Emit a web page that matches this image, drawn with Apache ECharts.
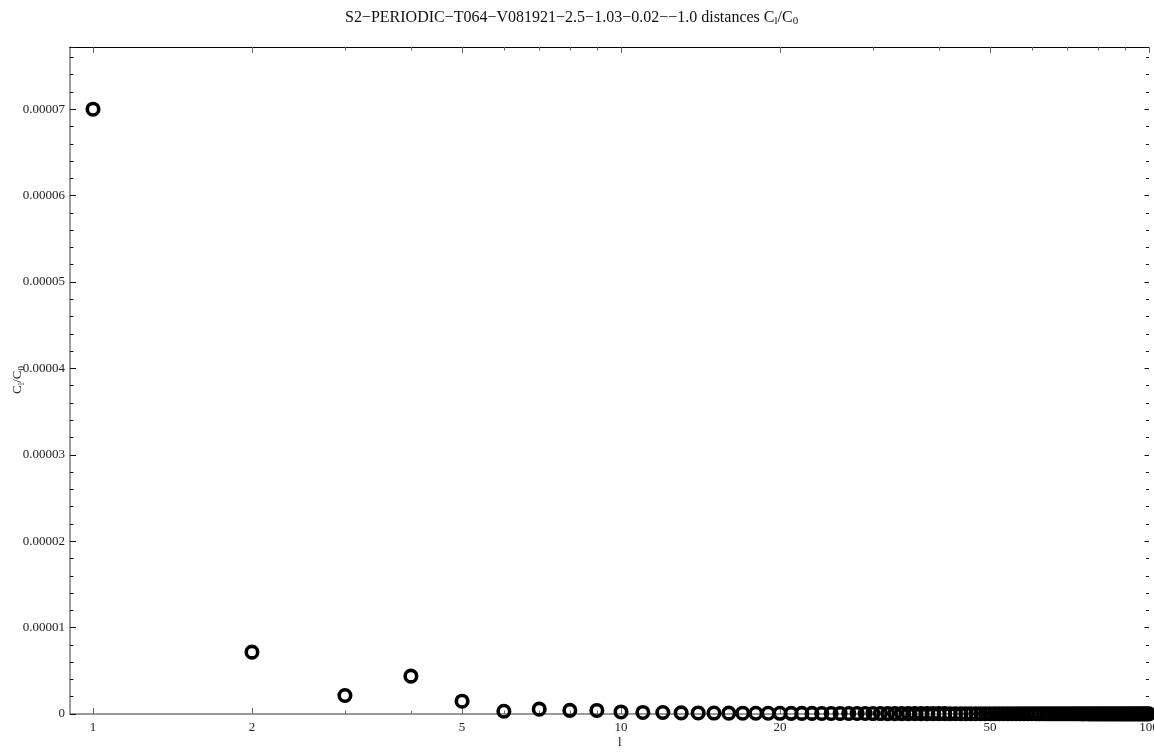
<!DOCTYPE html>
<html>
<head>
<meta charset="utf-8">
<script src="https://cdn.jsdelivr.net/npm/echarts@6/dist/echarts.min.js"></script>
<style>
  html, body { margin: 0; padding: 0; background: #fff; }
  #chart { width: 1154px; height: 754px; }
</style>
</head>
<body>
<div id="chart"></div>
<script>
// Multipole index l and the ratio C_l / C_0 for l = 1 .. 100
const ratio = [
  7.0e-5, 7.16e-6, 2.14e-6, 4.38e-6, 1.48e-6, 3.2e-7, 5.6e-7, 4.2e-7, 4.1e-7, 2.4e-7,
  1.8e-7, 1.7e-7, 1.3e-7, 1.2e-7, 1.1e-7, 1.0e-7, 9.2e-8, 8.8e-8, 8.3e-8, 8.0e-8,
  7.5e-8, 6.8e-8, 7.1e-8, 6.2e-8, 6.5e-8, 5.8e-8, 6.0e-8, 5.4e-8, 5.6e-8, 5.1e-8,
  5.2e-8, 4.8e-8, 4.9e-8, 4.5e-8, 4.6e-8, 4.2e-8, 4.3e-8, 4.0e-8, 4.1e-8, 3.8e-8,
  3.9e-8, 3.6e-8, 3.7e-8, 3.4e-8, 3.5e-8, 3.3e-8, 3.3e-8, 3.1e-8, 3.2e-8, 3.0e-8,
  3.0e-8, 2.9e-8, 2.9e-8, 2.8e-8, 2.8e-8, 2.7e-8, 2.7e-8, 2.6e-8, 2.6e-8, 2.5e-8,
  2.5e-8, 2.4e-8, 2.5e-8, 2.4e-8, 2.3e-8, 2.4e-8, 2.3e-8, 2.2e-8, 2.3e-8, 2.2e-8,
  2.2e-8, 2.1e-8, 2.2e-8, 2.1e-8, 2.0e-8, 2.1e-8, 2.0e-8, 2.0e-8, 1.9e-8, 2.0e-8,
  1.9e-8, 1.9e-8, 1.8e-8, 1.9e-8, 1.8e-8, 1.8e-8, 1.7e-8, 1.8e-8, 1.7e-8, 1.7e-8,
  1.7e-8, 1.6e-8, 1.7e-8, 1.6e-8, 1.6e-8, 1.6e-8, 1.5e-8, 1.6e-8, 1.5e-8, 1.5e-8
];
const ells = ratio.map((_, i) => i + 1);

// Labelled (major) and unlabelled (minor) ticks of the logarithmic l axis
const xMajorTicks = [1, 2, 5, 10, 20, 50, 100];
const xMinorTicks = [3, 4, 6, 7, 8, 9, 30, 40, 60, 70, 80, 90];

const X_MIN = 0.9045;
const X_MAX = 100;
const Y_MIN = 0;
const Y_MAX = 0.0000772;
const Y_STEP = 0.00001;

const FONT = '"Liberation Serif", "DejaVu Serif", serif';
const TICK_GREY = '#666';

const points = ells.map((l, i) => [l, ratio[i]]);
const log10 = v => Math.log(v) / Math.LN10;
const majorLog = xMajorTicks.map(log10);
const minorLog = xMinorTicks.map(log10);

// Helper: a value axis in log10(l) units that only carries tick marks / labels
function tickAxis(position, values, length, withLabels, lineOpts) {
  return {
    type: 'value',
    position: position,
    min: log10(X_MIN),
    max: log10(X_MAX),
    axisLine: Object.assign({ show: false, onZero: false }, lineOpts || {}),
    axisTick: {
      show: true, inside: true, length: length, customValues: values,
      lineStyle: { color: TICK_GREY, width: 1 }
    },
    axisLabel: withLabels ? {
      show: true, customValues: values, margin: 7,
      fontFamily: FONT, fontSize: 13, color: '#222',
      formatter: v => String(Math.round(Math.pow(10, v)))
    } : { show: false },
    splitLine: { show: false },
    minorTick: { show: false }
  };
}

const subRich = {
  t: { fontFamily: FONT, fontSize: 16, fontWeight: 'normal', color: '#111', lineHeight: 19 },
  s: { fontFamily: FONT, fontSize: 11, fontWeight: 'normal', color: '#111', lineHeight: 19, padding: [8, 0, 0, 0] }
};
const axRich = {
  t: { fontFamily: FONT, fontSize: 13, fontWeight: 'normal', fill: '#111', lineHeight: 16 },
  s: { fontFamily: FONT, fontSize: 9, fontWeight: 'normal', fill: '#111', lineHeight: 16, padding: [7, 0, 0, 0] }
};

const chart = echarts.init(document.getElementById('chart'), null, { renderer: 'canvas' });

chart.setOption({
  animation: false,
  backgroundColor: '#fff',
  title: {
    text: '{t|S2\u2212PERIODIC\u2212T064\u2212V081921\u22122.5\u22121.03\u22120.02\u2212\u22121.0 distances C}{s|l}{t|/C}{s|0}',
    left: 340,
    top: 3,
    textStyle: { fontWeight: 'normal', rich: subRich }
  },
  grid: { left: 70, right: 5, top: 47, bottom: 40, containLabel: false, outerBoundsMode: 'none' },
  xAxis: [
    {
      // data axis: logarithmic in l
      type: 'log',
      logBase: 10,
      position: 'bottom',
      min: X_MIN,
      max: X_MAX,
      axisLine: { show: true, onZero: false, lineStyle: { color: '#7a7a7a', width: 1.5 } },
      axisTick: { show: false },
      axisLabel: { show: false },
      splitLine: { show: false },
      minorTick: { show: false }
    },
    tickAxis('bottom', majorLog, 6, true),
    tickAxis('bottom', minorLog, 3.5, false),
    tickAxis('top', majorLog, 6, false, { show: true, lineStyle: { color: '#000', width: 1.2 } }),
    tickAxis('top', minorLog, 3.5, false)
  ],
  yAxis: [
    {
      type: 'value',
      position: 'left',
      min: Y_MIN,
      max: Y_MAX,
      interval: Y_STEP,
      axisLine: { show: true, onZero: false, lineStyle: { color: '#7a7a7a', width: 1.5 } },
      axisTick: { show: true, inside: true, length: 6, lineStyle: { color: '#111' } },
      minorTick: { show: true, splitNumber: 5, length: 3.5, lineStyle: { color: '#111' } },
      axisLabel: {
        margin: 5, fontFamily: FONT, fontSize: 13, color: '#222', showMaxLabel: false,
        formatter: v => (v === 0 ? '0' : v.toFixed(5))
      },
      splitLine: { show: false },
      minorSplitLine: { show: false }
    },
    {
      type: 'value',
      position: 'right',
      min: Y_MIN,
      max: Y_MAX,
      interval: Y_STEP,
      axisLine: { show: false, onZero: false },
      axisTick: { show: true, inside: true, length: 4.5, lineStyle: { color: '#111' } },
      minorTick: { show: true, splitNumber: 5, length: 3, lineStyle: { color: '#111' } },
      axisLabel: { show: false },
      splitLine: { show: false },
      minorSplitLine: { show: false }
    }
  ],
  graphic: [
    {
      // vertical axis title C_l / C_0
      type: 'text',
      x: 18,
      y: 380,
      rotation: Math.PI / 2,
      style: {
        text: '{t|C}{s|l}{t|/C}{s|0}',
        rich: axRich,
        align: 'center',
        verticalAlign: 'middle'
      }
    },
    {
      // horizontal axis title
      type: 'text',
      left: 618,
      top: 736,
      style: { text: 'l', font: '13px "Liberation Serif"', fill: '#111' }
    }
  ],
  series: [
    {
      type: 'scatter',
      xAxisIndex: 0,
      yAxisIndex: 0,
      data: points,
      symbol: 'circle',
      symbolSize: 11.5,
      clip: false,
      silent: true,
      itemStyle: { color: 'rgba(0,0,0,0)', borderColor: '#000', borderWidth: 3.6, opacity: 1 }
    }
  ]
});
</script>
</body>
</html>
